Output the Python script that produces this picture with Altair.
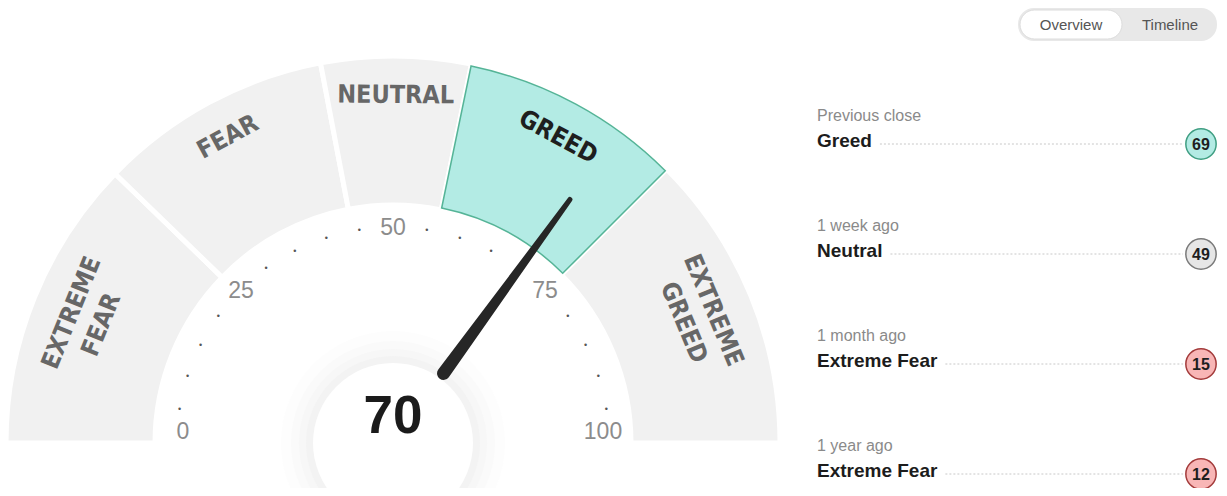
import math
import altair as alt
import pandas as pd

# ---------------- data ----------------
zone_names = ["EXTREME\nFEAR", "FEAR", "NEUTRAL", "GREED", "EXTREME\nGREED"]
zone_bounds = [0, 24.5, 44, 56.5, 75, 100]
current_value = 70
tick_labels = [0, 25, 50, 75, 100]
minor_ticks = [5, 10, 15, 20, 30, 35, 40, 45, 55, 60, 65, 70, 80, 85, 90, 95]
history_periods = ["Previous close", "1 week ago", "1 month ago", "1 year ago"]
history_ratings = ["Greed", "Neutral", "Extreme Fear", "Extreme Fear"]
history_values = [69, 49, 15, 12]
view_tabs = ["Overview", "Timeline"]

# ---------------- layout / style ----------------
W, H = 1211, 480
X0, Y0 = 8, 8
CX, CY = 393, 443
R_OUT, R_IN = 385, 240
FONT = "Liberation Sans"
LABEL_FONT = "DejaVu Sans Condensed, sans-serif"

xs = alt.Scale(domain=[X0, X0 + W], nice=False, zero=False)
ys = alt.Scale(domain=[Y0, Y0 + H], reverse=True, nice=False, zero=False)
ts = alt.Scale(domain=[0, 100], range=[-math.pi / 2, math.pi / 2], nice=False, zero=False)


def xd(v):
    return alt.XDatum(v, scale=xs, axis=None)


def yd(v):
    return alt.YDatum(v, scale=ys, axis=None)


center = dict(x=xd(CX), y=yd(CY))
one = pd.DataFrame({"k": [0]})

# ---------------- gauge zones ----------------
seg = pd.DataFrame({"name": zone_names, "start": zone_bounds[:-1], "end": zone_bounds[1:]})
seg["mid"] = (seg["start"] + seg["end"]) / 2
seg["rot"] = (1.8 * seg["mid"] - 90) % 360
seg["lines"] = seg["name"].str.count("\n") + 1
seg["r"] = seg["lines"].map(lambda n: 347 if n > 1 else 348)
seg["active"] = (seg["start"] <= current_value) & (seg["end"] > current_value)
seg["tcolor"] = seg["active"].map(lambda a: "#1e1e1e" if a else "#676767")

zones = alt.Chart(seg).mark_arc(fill="#f1f1f1", stroke="white", strokeWidth=5).encode(
    theta=alt.Theta("start:Q", scale=ts, stack=None),
    theta2="end:Q",
    radius=alt.value(R_OUT + 2),
    radius2=alt.value(R_IN - 2),
    **center,
)

active_zone = alt.Chart(seg[seg["active"]]).mark_arc(
    fill="#b3ebe4", stroke="#55b497", strokeWidth=1.5
).encode(
    theta=alt.Theta("start:Q", scale=ts, stack=None),
    theta2="end:Q",
    radius=alt.value(R_OUT),
    radius2=alt.value(R_IN),
    **center,
)

zone_labels = alt.Chart(seg).mark_text(
    font=LABEL_FONT, fontSize=25, fontWeight="bold", lineBreak="\n", lineHeight=32,
    align="center", baseline="middle",
).encode(
    theta=alt.Theta("mid:Q", scale=ts, stack=None),
    radius=alt.Radius("r:Q", scale=None),
    angle=alt.Angle("rot:Q", scale=None),
    text="name:N",
    color=alt.Color("tcolor:N", scale=None),
    **center,
)

# ---------------- hub ----------------
hub_layers = []
for rr, cc in [(112, "#fdfdfd"), (102, "#fafafa"), (94, "#f7f7f7"), (87, "#f3f3f3"), (80, "#ffffff")]:
    hub_layers.append(
        alt.Chart(one).mark_arc(fill=cc).encode(
            theta=alt.value(0), theta2=alt.value(2 * math.pi),
            radius=alt.value(rr), radius2=alt.value(0), **center,
        )
    )

# ---------------- ticks ----------------
dots = alt.Chart(pd.DataFrame({"v": minor_ticks})).mark_text(
    text="\u2022", fontSize=9, color="#555555", font=FONT, baseline="middle"
).encode(
    theta=alt.Theta("v:Q", scale=ts, stack=None), radius=alt.value(216), **center
)

tick_df = pd.DataFrame({"v": tick_labels})
inner_ticks = alt.Chart(tick_df[(tick_df.v > 0) & (tick_df.v < 100)]).mark_text(
    fontSize=23, color="#8c8c8c", font=FONT, baseline="middle"
).encode(
    theta=alt.Theta("v:Q", scale=ts, stack=None), radius=alt.value(215),
    text="v:Q", **center,
)
end_ticks = alt.Chart(tick_df[(tick_df.v == 0) | (tick_df.v == 100)]).mark_text(
    fontSize=23, color="#8c8c8c", font=FONT, baseline="middle", dy=-11
).encode(
    theta=alt.Theta("v:Q", scale=ts, stack=None), radius=alt.value(210),
    text="v:Q", **center,
)

# ---------------- needle ----------------
ang = math.pi * (1 - current_value / 100)
needle_df = pd.DataFrame({
    "x": [CX + 86 * math.cos(ang), CX + 301 * math.cos(ang)],
    "y": [CY - 86 * math.sin(ang), CY - 301 * math.sin(ang)],
    "w": [13, 5],
    "i": [0, 1],
})
needle = alt.Chart(needle_df).mark_trail(color="#262626").encode(
    x=alt.X("x:Q", scale=xs, axis=None),
    y=alt.Y("y:Q", scale=ys, axis=None),
    size=alt.Size("w:Q", scale=None, legend=None),
    order="i:Q",
)

value_text = alt.Chart(pd.DataFrame({"v": [current_value]})).mark_text(
    font=FONT, fontSize=53, fontWeight="bold", color="#1b1b1b", baseline="alphabetic"
).encode(x=xd(CX), y=yd(433), text="v:Q")

# ---------------- right panel ----------------
rating_style = {
    "Greed": ("#b3ebe4", "#3f9e82"),
    "Neutral": ("#e6e6e6", "#7a7a7a"),
    "Fear": ("#f7c9c9", "#b04444"),
    "Extreme Fear": ("#f8b6b6", "#a33a3a"),
    "Extreme Greed": ("#8fdccf", "#2f8a70"),
}
bold_w = {"G": .778, "r": .389, "e": .556, "d": .611, "N": .722, "u": .611, "t": .333,
          "a": .556, "l": .278, "E": .667, "x": .556, "m": .889, "F": .611, " ": .278}
rows = pd.DataFrame({"period": history_periods, "rating": history_ratings, "val": history_values})
rows["ry"] = [141 + 110 * i for i in range(len(rows))]
rows["py"] = rows["ry"] - 25
rows["cy"] = rows["ry"] + 3
rows["lx"] = [817 + sum(bold_w.get(c, .6) for c in s) * 19 + 8 for s in rows["rating"]]
rows["lx2"] = 1183
rows["fill"] = rows["rating"].map(lambda r: rating_style[r][0])
rows["stroke"] = rows["rating"].map(lambda r: rating_style[r][1])

period_text = alt.Chart(rows).mark_text(
    font=FONT, fontSize=16, color="#8a8a8a", align="left", baseline="middle"
).encode(x=xd(817), y=alt.Y("py:Q", scale=ys, axis=None), text="period:N")

rating_text = alt.Chart(rows).mark_text(
    font=FONT, fontSize=19, fontWeight="bold", color="#1c1c1c", align="left", baseline="middle"
).encode(x=xd(817), y=alt.Y("ry:Q", scale=ys, axis=None), text="rating:N")

leaders = alt.Chart(rows).mark_rule(strokeDash=[2, 2], color="#c8c8c8", strokeWidth=1).encode(
    x=alt.X("lx:Q", scale=xs, axis=None), x2="lx2:Q", y=alt.Y("cy:Q", scale=ys, axis=None)
)

badges = alt.Chart(rows).mark_point(
    shape="circle", filled=True, size=920, opacity=1, strokeWidth=1.5
).encode(
    x=xd(1201), y=alt.Y("cy:Q", scale=ys, axis=None),
    fill=alt.Fill("fill:N", scale=None), stroke=alt.Stroke("stroke:N", scale=None),
)

badge_text = alt.Chart(rows).mark_text(
    font=FONT, fontSize=16, fontWeight="bold", color="#1e1e1e", baseline="middle", dy=1
).encode(x=xd(1201), y=alt.Y("cy:Q", scale=ys, axis=None), text="val:Q")

tab_outer = alt.Chart(one).mark_rect(fill="#e8e8e8", cornerRadius=16).encode(
    x=xd(1018), x2=alt.X2Datum(1217), y=yd(8), y2=alt.Y2Datum(41)
)
tab_inner = alt.Chart(one).mark_rect(
    fill="#ffffff", stroke="#dcdcdc", strokeWidth=1, cornerRadius=15
).encode(x=xd(1020), x2=alt.X2Datum(1122), y=yd(10), y2=alt.Y2Datum(39))
tab_text = alt.Chart(pd.DataFrame({"tab": view_tabs, "tx": [1071, 1170]})).mark_text(
    font=FONT, fontSize=15, color="#555555", baseline="middle"
).encode(x=alt.X("tx:Q", scale=xs, axis=None), y=yd(25), text="tab:N")

chart = alt.layer(
    zones, active_zone, *hub_layers, dots, inner_ticks, end_ticks, zone_labels,
    needle, value_text,
    tab_outer, tab_inner, tab_text,
    leaders, period_text, rating_text, badges, badge_text,
).properties(
    width=W, height=H, padding=0, autosize=alt.AutoSizeParams(type="none"), background="white"
).configure_view(stroke=None)

chart.save("out.html", embed_options={"renderer": "svg", "actions": False})
